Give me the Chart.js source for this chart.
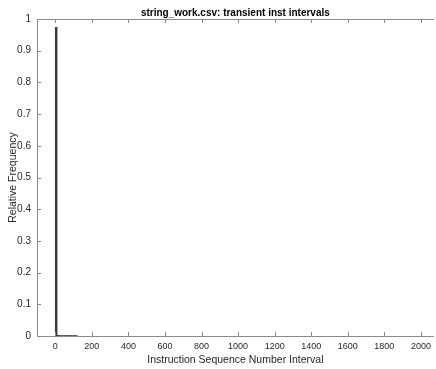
<!DOCTYPE html>
<html>
<head>
<meta charset="utf-8">
<script src="https://cdn.jsdelivr.net/npm/chart.js@4/dist/chart.umd.min.js"></script>
<style>
  html, body { margin: 0; padding: 0; background: #fff; }
  #wrap { width: 436px; height: 369px; }
</style>
</head>
<body>
<div id="wrap"><canvas id="c" width="436" height="369"></canvas></div>
<script>
// Histogram bins (bin centres, width 10) and their relative frequencies
const binCenters = [5, 15, 25, 35, 45, 55, 65, 75, 85, 95, 105, 115];
const relFreq = [0.974, 0.002, 0.0015, 0.0015, 0.001, 0.001, 0.001, 0.001, 0.001, 0.001, 0.001, 0.001];
const xTickValues = [0, 200, 400, 600, 800, 1000, 1200, 1400, 1600, 1800, 2000];
const yTickValues = [0, 0.1, 0.2, 0.3, 0.4, 0.5, 0.6, 0.7, 0.8, 0.9, 1];

const AXIS_COLOR = '#8a8a8a';
const TEXT_COLOR = '#262626';
const FONT = 'Liberation Sans, Arial, Helvetica, sans-serif';

// Inward-pointing tick marks, drawn from the scales' own pixel mapping
const inwardTicks = {
  id: 'inwardTicks',
  afterDatasetsDraw(chart) {
    const { ctx, chartArea: a, scales } = chart;
    ctx.save();
    ctx.strokeStyle = AXIS_COLOR;
    ctx.lineWidth = 1;
    ctx.beginPath();
    xTickValues.forEach(v => {
      const px = Math.round(scales.x.getPixelForValue(v)) + 0.5;
      ctx.moveTo(px, a.bottom);
      ctx.lineTo(px, a.bottom - 4);
      ctx.moveTo(px, a.top);
      ctx.lineTo(px, a.top + 4);
    });
    yTickValues.forEach(v => {
      const py = Math.round(scales.y.getPixelForValue(v)) + 0.5;
      ctx.moveTo(a.left, py);
      ctx.lineTo(a.left + 4, py);
    });
    ctx.stroke();
    ctx.restore();
  }
};

new Chart(document.getElementById('c'), {
  type: 'bar',
  data: {
    datasets: [{
      data: binCenters.map((x, i) => ({ x: x, y: relFreq[i] })),
      backgroundColor: '#3a3a3a',
      borderWidth: 0,
      barPercentage: 1,
      categoryPercentage: 1
    }]
  },
  options: {
    responsive: false,
    animation: false,
    devicePixelRatio: 1,
    layout: { padding: { left: 0, right: 1, top: 0, bottom: 0 } },
    plugins: {
      legend: { display: false },
      tooltip: { enabled: false },
      title: {
        display: true,
        fullSize: false,
        text: 'string_work.csv: transient inst intervals',
        color: '#000',
        font: { family: FONT, size: 10, weight: 'bold', lineHeight: 1.2 },
        padding: { top: 7, bottom: 0 }
      }
    },
    scales: {
      x: {
        type: 'linear',
        position: 'bottom',
        min: -100,
        max: 2070,
        offset: false,
        afterBuildTicks: s => { s.ticks = xTickValues.map(v => ({ value: v })); },
        afterFit: s => { s.height = 33; },
        grid: { display: false, drawTicks: false },
        border: { display: true, color: AXIS_COLOR, width: 1 },
        ticks: {
          color: TEXT_COLOR,
          font: { family: FONT, size: 9 },
          padding: 5,
          maxRotation: 0,
          autoSkip: false,
          callback: v => String(v)
        },
        title: {
          display: true,
          text: 'Instruction Sequence Number Interval',
          color: TEXT_COLOR,
          font: { family: FONT, size: 10.5 },
          padding: { top: 0, bottom: 3 }
        }
      },
      xTop: {
        type: 'linear',
        position: 'top',
        min: -100,
        max: 2070,
        afterFit: s => { s.height = 0; },
        grid: { display: false, drawTicks: false },
        border: { display: true, color: AXIS_COLOR, width: 1 },
        ticks: { display: false }
      },
      y: {
        type: 'linear',
        min: 0,
        max: 1,
        afterBuildTicks: s => { s.ticks = yTickValues.map(v => ({ value: v })); },
        afterFit: s => { s.width = 37; },
        grid: { display: false, drawTicks: false },
        border: { display: true, color: AXIS_COLOR, width: 1 },
        ticks: {
          color: TEXT_COLOR,
          font: { family: FONT, size: 10 },
          padding: 6,
          autoSkip: false,
          callback: v => String(Math.round(v * 10) / 10)
        },
        title: {
          display: true,
          text: 'Relative Frequency',
          color: TEXT_COLOR,
          font: { family: FONT, size: 10.5 },
          padding: { top: 7, bottom: 0 }
        }
      }
    }
  },
  plugins: [inwardTicks]
});
</script>
</body>
</html>
